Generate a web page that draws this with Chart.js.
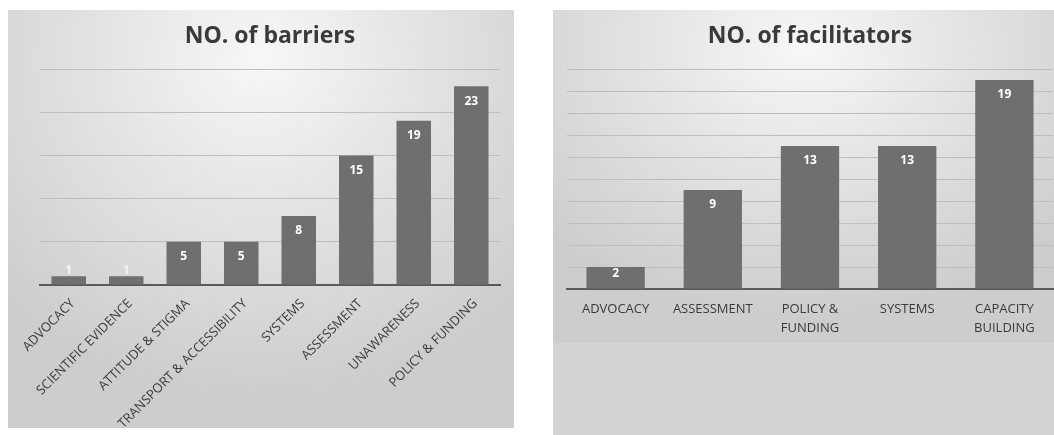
<!DOCTYPE html>
<html>
<head>
<meta charset="utf-8">
<script src="https://cdn.jsdelivr.net/npm/chart.js@4"></script>
<style>
  body { margin: 0; width: 1054px; height: 435px; background: #ffffff; position: relative; overflow: hidden; }
  .panel { position: absolute; }
  #leftPanel { left: 8px; top: 10px; width: 506px; height: 418px;
    background: radial-gradient(ellipse 70% 80% at 50% 12%, #f7f7f7 0%, #e4e4e4 45%, #cdcdcd 100%); }
  #rightOuter { left: 553px; top: 10px; width: 501px; height: 425px; background: #d3d3d3; }
  #rightPanel { left: 553px; top: 10px; width: 501px; height: 333px;
    background: radial-gradient(ellipse 70% 80% at 50% 12%, #f7f7f7 0%, #e4e4e4 45%, #cdcdcd 100%); }
  canvas { position: absolute; left: 0; top: 0; }
</style>
</head>
<body>
<div class="panel" id="leftPanel"><canvas id="barriers" width="506" height="418"></canvas></div>
<div class="panel" id="rightOuter"></div>
<div class="panel" id="rightPanel"><canvas id="facilitators" width="501" height="333"></canvas></div>
<script>
// datos
const barrierLabels = ["ADVOCACY", "SCIENTIFIC EVIDENCE", "ATTITUDE & STIGMA", "TRANSPORT & ACCESSIBILITY",
  "SYSTEMS", "ASSESSMENT", "UNAWARENESS", "POLICY & FUNDING"];
const barrierValues = [1, 1, 5, 5, 8, 15, 19, 23];

const facilitatorLabels = [["ADVOCACY"], ["ASSESSMENT"], ["POLICY &", "FUNDING"], ["SYSTEMS"], ["CAPACITY", "BUILDING"]];
const facilitatorValues = [2, 9, 13, 13, 19];

const barColor = "#6f6f6f";
const textColor = "#3a3a3a";
const gridColor = "#bebebe";

// etiquetas de valor (estilo Excel, dentro del extremo)
const valueLabels = {
  id: "valueLabels",
  afterDatasetsDraw(chart) {
    const ctx = chart.ctx;
    const meta = chart.getDatasetMeta(0);
    const values = chart.data.datasets[0].data;
    ctx.save();
    ctx.font = "bold 12px 'Open Sans'";
    ctx.textAlign = "center";
    ctx.textBaseline = "middle";
    meta.data.forEach((bar, i) => {
      const h = bar.base - bar.y;
      let y;
      let color = "#ffffff";
      if (h >= 30) {
        y = bar.y + 15;
      } else if (h >= 16) {
        y = bar.y + 7;
      } else {
        y = bar.y - 6;
        color = "#f4f4f4";
      }
      ctx.fillStyle = color;
      ctx.fillText(String(values[i]), bar.x, y);
    });
    ctx.restore();
  },
};

function gridLineColor(c) {
  return c.tick && c.tick.value === 0 ? "rgba(0,0,0,0)" : gridColor;
}

new Chart(document.getElementById("barriers"), {
  type: "bar",
  data: {
    labels: barrierLabels,
    datasets: [{
      data: barrierValues,
      backgroundColor: barColor,
      borderWidth: 0,
      barPercentage: 0.6,
      categoryPercentage: 1,
    }],
  },
  options: {
    responsive: false,
    devicePixelRatio: 1,
    animation: false,
    layout: { padding: { left: 32, right: 14, top: 0, bottom: 0 } },
    plugins: {
      legend: { display: false },
      tooltip: { enabled: false },
      title: {
        display: true,
        text: "NO. of barriers",
        color: textColor,
        font: { family: "'Open Sans'", size: 23, weight: "bold", lineHeight: 1.2 },
        padding: { top: 13, bottom: 18.4 },
      },
    },
    scales: {
      x: {
        grid: { display: false },
        border: { display: true, color: "#5a5a5a", width: 2 },
        ticks: {
          color: textColor,
          font: { family: "'Open Sans'", size: 13 },
          minRotation: 45,
          maxRotation: 45,
          autoSkip: false,
          padding: 3,
          labelOffset: 4,
        },
        afterFit(scale) { scale.height = 143; },
      },
      y: {
        min: 0,
        max: 25,
        ticks: { display: false, stepSize: 5 },
        border: { display: false },
        grid: { color: gridLineColor, lineWidth: 1, drawTicks: false },
        afterFit(scale) { scale.width = 0; },
      },
    },
  },
  plugins: [valueLabels],
});

new Chart(document.getElementById("facilitators"), {
  type: "bar",
  data: {
    labels: facilitatorLabels,
    datasets: [{
      data: facilitatorValues,
      backgroundColor: barColor,
      borderWidth: 0,
      barPercentage: 0.6,
      categoryPercentage: 1,
    }],
  },
  options: {
    responsive: false,
    devicePixelRatio: 1,
    animation: false,
    layout: { padding: { left: 14, right: 1, top: 0, bottom: 0 } },
    plugins: {
      legend: { display: false },
      tooltip: { enabled: false },
      title: {
        display: true,
        text: "NO. of facilitators",
        color: textColor,
        font: { family: "'Open Sans'", size: 23, weight: "bold", lineHeight: 1.2 },
        padding: { top: 13, bottom: 18.4 },
      },
    },
    scales: {
      x: {
        grid: { display: false },
        border: { display: true, color: "#5a5a5a", width: 2 },
        ticks: {
          color: textColor,
          font: { family: "'Open Sans'", size: 13, lineHeight: 1.45 },
          maxRotation: 0,
          autoSkip: false,
          padding: 3,
        },
        afterFit(scale) { scale.height = 54; },
      },
      y: {
        min: 0,
        max: 20,
        ticks: { display: false, stepSize: 2 },
        border: { display: false },
        grid: { color: gridLineColor, lineWidth: 1, drawTicks: false },
        afterFit(scale) { scale.width = 0; },
      },
    },
  },
  plugins: [valueLabels],
});
</script>
</body>
</html>
